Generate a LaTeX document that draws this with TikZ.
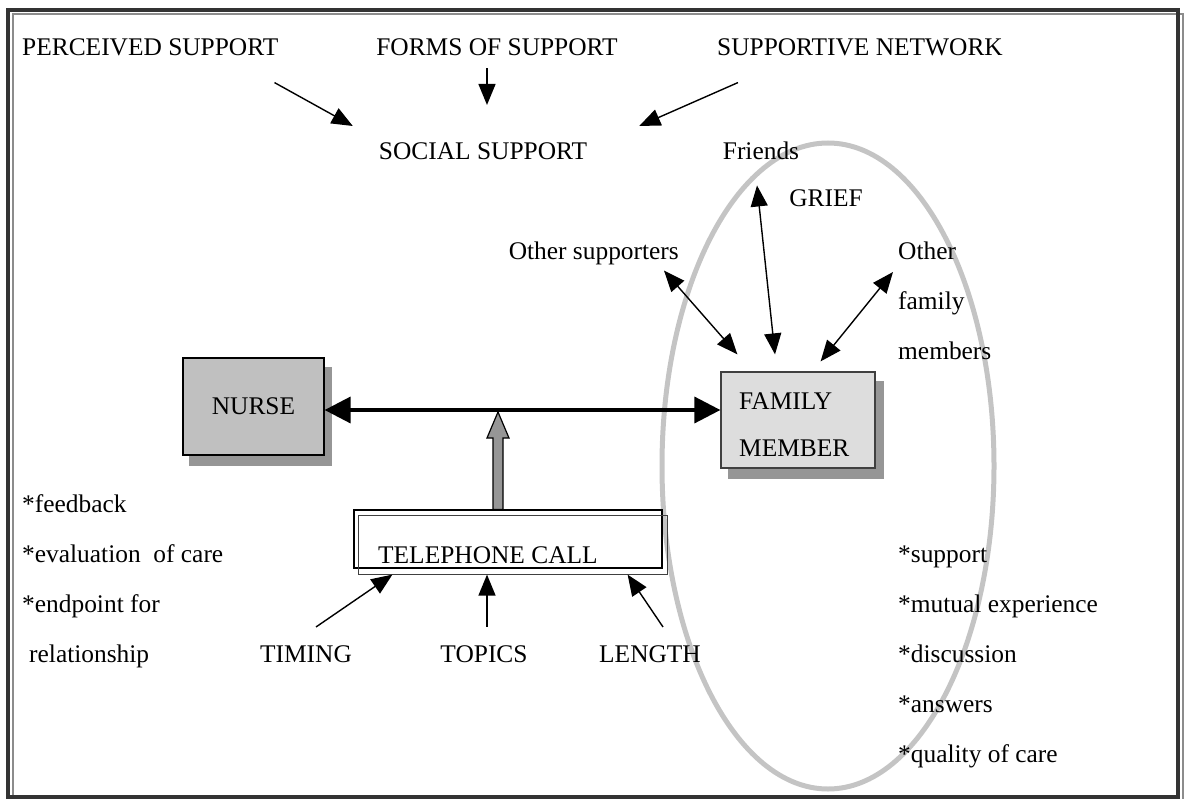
\documentclass[tikz,border=0pt]{standalone}
\usepackage{fontspec}
\setmainfont{Liberation Serif}
\usepackage{tikz}
\usetikzlibrary{calc,arrows.meta,backgrounds}
\definecolor{nursefill}{HTML}{C0C0C0}
\definecolor{famfill}{HTML}{DDDDDD}
\definecolor{shadowgray}{HTML}{969696}
\definecolor{ringgray}{HTML}{C4C4C4}
\definecolor{framegray}{HTML}{8C8C8C}
\newcommand{\shadecolor}{shadowgray}
\newcommand{\thin}{1.4bp}
\newcommand{\txtsize}{\fontsize{25.5}{30}\selectfont}

\tikzset{
  lbl/.style={inner sep=0pt, font=\txtsize},
  arr/.style={line width=\thin, >={Triangle[length=21bp,width=17bp]}, ->},
  darr/.style={line width=\thin, >={Triangle[length=21bp,width=17bp]}, <->},
  bigarr/.style={line width=3.5bp, >={Triangle[length=26bp,width=26bp]}, <->},
  box/.style={draw, line width=1.2bp, inner sep=0pt, font=\txtsize},
}

\begin{document}
\begin{tikzpicture}[x=1bp, y=-1bp]
\useasboundingbox (0,0) rectangle (1186,799);
%frame
\draw[framegray, line width=2.5bp] (13,14) rectangle (1183,801);
\draw[black!80, line width=3.5bp] (8,10) rectangle (1178,797);
%top row
\node[lbl, anchor=base west] (percv) at (22, 56) {PERCEIVED SUPPORT};
\node[lbl, anchor=base] (forms) at (497, 56) {FORMS OF SUPPORT};
\node[lbl, anchor=base] (netw) at (860, 56) {SUPPORTIVE NETWORK};
\node[lbl, anchor=base] (social) at (483, 159) {SOCIAL SUPPORT};
\draw[arr] ([shift={(-4,26)}]percv.south east) -- ([shift={(-26,-16)}]social.north west);
\draw[arr] ([shift={(-10,12)}]forms.south) -- ([shift={(4,-37)}]social.north);
\draw[arr] ([shift={(21,26)}]netw.south west) -- ([shift={(52,-16)}]social.north east);
%grief circle
\begin{scope}[on background layer]
\draw[ringgray, line width=5bp] (828, 466) ellipse [x radius=166bp, y radius=323bp];
\end{scope}
\node[lbl, anchor=base] (friends) at (761, 159) {Friends};
\node[lbl, anchor=base] (grief) at (826, 206) {GRIEF};
\node[lbl, anchor=base east] (othsup) at (679, 259) {Other supporters};
\node[lbl, anchor=north west, align=left, font=\fontsize{25.5}{50}\selectfont] (othfam) at (898, 242) {Other\\family\\members};
%boxes
\node[box, fill=nursefill, minimum width=141bp, minimum height=97bp] (nurse) at (253.5, 406.5) {NURSE};
\node[box, draw=black!75, fill=famfill, minimum width=154bp, minimum height=96bp] (family) at (798, 420) {};
\node[lbl, anchor=west, align=left, font=\fontsize{25.5}{47}\selectfont] (famtxt) at (739, 425) {FAMILY\\MEMBER};
\begin{scope}[on background layer]
\fill[\shadecolor] ([shift={(7,10)}]nurse.south west) rectangle ([shift={(7,10)}]nurse.north east);
\fill[\shadecolor] ([shift={(8,10)}]family.south west) rectangle ([shift={(8,10)}]family.north east);
\end{scope}
\draw[darr] ([shift={(-15,6)}]othsup.south east) -- ([shift={(17,-17)}]family.north west);
\draw[darr] ([shift={(-4,26)}]friends.south) -- ([shift={(-23,-17)}]family.north);
\draw[darr] ([shift={(-5,30)}]othfam.north west) -- ([shift={(-55,-10)}]family.north east);
\draw[bigarr] ([shift={(0,3.5)}]nurse.east) -- ([shift={(0,3.5)}]nurse.east -| family.west);
%telephone call
\node[draw, line width=1.2bp, minimum width=308bp, minimum height=58bp] (tel) at (508, 539) {};
\draw[black!75, line width=1.2bp] ([shift={(5,6)}]tel.north west) rectangle ([shift={(5,6)}]tel.south east);
\node[lbl, anchor=base west] (tellab) at (378, 563) {TELEPHONE CALL};
\coordinate (hub) at (498, 412);
\coordinate (foot) at (tel.north -| hub);
\filldraw[fill=\shadecolor, draw=black, line width=1.2bp] ($(foot)+(-5,0)$) -- ($(hub)+(-5,26)$) -- ($(hub)+(-11,26)$) -- (hub) -- ($(hub)+(11,26)$) -- ($(hub)+(5,26)$) -- ($(foot)+(5,0)$) -- cycle;
\node[lbl, anchor=base] (timing) at (306, 662) {TIMING};
\node[lbl, anchor=base] (topics) at (484, 662) {TOPICS};
\node[lbl, anchor=base] (length) at (650, 662) {LENGTH};
\draw[arr] ([shift={(10,-18)}]timing.north) -- ([shift={(39,6)}]tel.south west);
\draw[arr] ([shift={(3,-18)}]topics.north) -- ([shift={(-21,6)}]tel.south);
\draw[arr] ([shift={(13,-18)}]length.north) -- ([shift={(-35,6)}]tel.south east);
%lists
\node[lbl, anchor=base west] (fb) at (22, 512) {*feedback};
\node[lbl, anchor=base west] (ev) at (22, 562) {*evaluation\ \ of care};
\node[lbl, anchor=base west] (ep) at (22, 612) {*endpoint for};
\node[lbl, anchor=base west] (rel) at (29, 662) {relationship};
\node[lbl, anchor=base west] (sup) at (898, 562) {*support};
\node[lbl, anchor=base west] (mut) at (898, 612) {*mutual experience};
\node[lbl, anchor=base west] (dis) at (898, 662) {*discussion};
\node[lbl, anchor=base west] (ans) at (898, 712) {*answers};
\node[lbl, anchor=base west] (qual) at (898, 762) {*quality of care};
\end{tikzpicture}
\end{document}
